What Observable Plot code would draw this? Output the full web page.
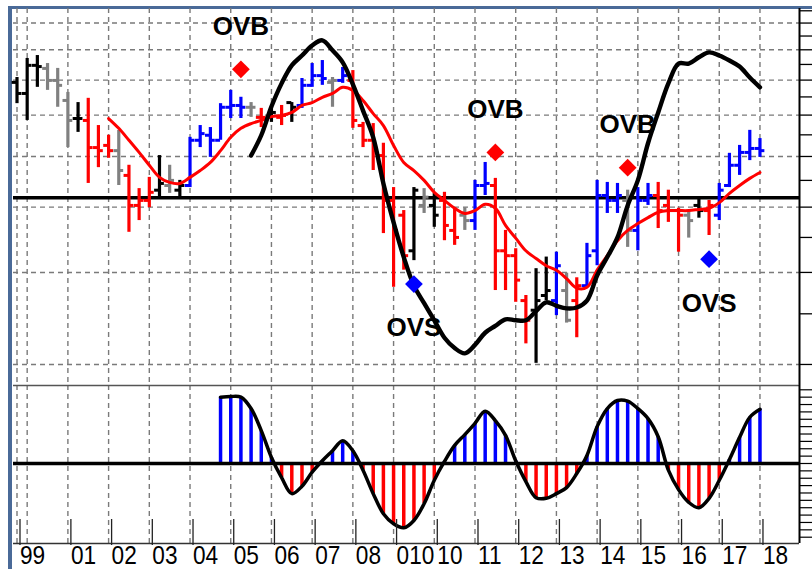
<!DOCTYPE html>
<html><head><meta charset="utf-8">
<script src="https://cdn.jsdelivr.net/npm/d3@7"></script>
<script src="https://cdn.jsdelivr.net/npm/@observablehq/plot@0.6"></script>
<style>
html,body{margin:0;padding:0;background:#fff;}
#chart{position:relative;width:812px;height:569px;overflow:hidden;background:#fff;font-family:"Liberation Sans",Arial,sans-serif;}
#chart svg{position:absolute;left:0;}
.frameL{position:absolute;left:8px;top:6px;width:4px;height:563px;background:#4a6a98;}
.frameT{position:absolute;left:8px;top:6px;width:804px;height:3px;background:#4a6a98;}
</style></head><body><div id="chart"><div class="frameL"></div><div class="frameT"></div></div>
<script>
// ---------- data ----------
const quarters = ["1999Q4",
 "2000Q1","2000Q2","2000Q3","2000Q4","2001Q1","2001Q2","2001Q3","2001Q4",
 "2002Q1","2002Q2","2002Q3","2002Q4","2003Q1","2003Q2","2003Q3","2003Q4",
 "2004Q1","2004Q2","2004Q3","2004Q4","2005Q1","2005Q2","2005Q3","2005Q4",
 "2006Q1","2006Q2","2006Q3","2006Q4","2007Q1","2007Q2","2007Q3","2007Q4",
 "2008Q1","2008Q2","2008Q3","2008Q4","2009Q1","2009Q2","2009Q3","2009Q4",
 "2010Q1","2010Q2","2010Q3","2010Q4","2011Q1","2011Q2","2011Q3","2011Q4",
 "2012Q1","2012Q2","2012Q3","2012Q4","2013Q1","2013Q2","2013Q3","2013Q4",
 "2014Q1","2014Q2","2014Q3","2014Q4","2015Q1","2015Q2","2015Q3","2015Q4",
 "2016Q1","2016Q2","2016Q3","2016Q4","2017Q1","2017Q2","2017Q3","2017Q4",
 "2018Q1"];

const high = [7.08,7.70,7.80,7.53,7.37,6.63,6.34,6.46,5.73,5.49,
 5.61,4.81,4.34,4.56,5.02,4.81,4.50,5.44,5.73,5.68,
 6.31,6.69,6.49,6.34,6.18,6.21,6.26,6.34,7.05,7.53,
 7.63,7.08,7.40,7.30,5.81,5.78,5.30,4.36,3.94,4.36,
 4.34,4.25,4.27,3.99,3.99,4.50,4.87,4.54,3.61,3.33,
 2.71,3.05,3.21,3.28,2.99,2.93,3.41,4.50,4.46,4.44,
 4.31,4.36,4.44,4.46,4.31,3.98,3.94,4.16,4.12,4.44,
 5.07,5.25,5.61,5.41];
const low = [6.31,5.86,6.78,6.69,6.21,5.20,5.56,4.44,4.76,4.96,
 4.40,3.58,3.77,3.99,4.18,4.25,4.18,4.36,5.20,4.98,
 5.37,5.91,5.91,5.94,5.68,5.81,5.73,5.81,6.18,6.78,
 6.84,6.21,6.90,5.66,5.20,4.70,3.56,2.81,3.03,3.16,
 3.89,3.66,3.45,3.38,3.61,3.61,4.21,2.77,2.77,2.63,
 2.19,2.01,2.65,2.48,2.40,2.25,2.81,3.09,3.89,3.89,
 3.35,3.30,4.03,3.64,3.74,3.28,3.49,3.81,3.53,3.77,
 4.36,4.60,4.91,4.98];
const open = [6.93,6.60,7.47,7.37,6.99,6.40,5.91,5.86,5.20,5.25,
 5.13,4.60,4.03,4.12,4.31,4.40,4.31,4.40,5.37,5.49,
 5.37,6.21,6.26,6.21,5.94,5.94,5.94,6.34,6.26,6.84,
 7.14,6.93,6.99,6.99,5.73,5.37,5.02,4.12,3.86,3.30,
 4.03,4.03,4.12,3.61,3.86,3.77,4.40,4.40,3.30,3.23,
 2.65,2.54,2.71,2.65,2.77,2.65,2.83,3.30,4.21,4.12,
 4.12,3.61,4.12,4.21,4.03,3.94,3.86,4.03,3.94,3.86,
 4.40,4.81,5.09,5.18];
const close = [6.60,7.47,7.43,6.99,6.84,5.86,5.91,5.20,5.13,5.13,
 4.70,4.03,4.12,4.27,4.44,4.50,4.40,5.37,5.53,5.37,
 6.21,6.26,6.21,6.21,5.94,6.07,5.99,6.21,6.84,7.14,
 7.05,6.99,7.14,5.86,5.37,5.13,4.12,3.61,3.23,4.31,
 4.18,3.86,3.69,3.50,3.77,4.40,4.44,3.30,3.23,2.90,
 2.43,2.65,2.77,3.09,2.43,2.83,3.23,4.21,4.12,4.21,
 3.61,4.12,4.21,3.94,3.94,3.86,3.77,3.94,4.03,4.31,
 4.81,5.09,5.18,5.13];
// bar state per quarter: k = neutral, g = flat, r = down trend, b = up trend
const barState = "kkkgggkrrrgrrrkgkbbbbbbgrkrkbbbgbrrrrrrkgkrrgbbrrrrkkbgrbbbbgbbrrrgkrbbbbb".split("");

// red moving average (starts 2002Q1)
const movingAvg = [null,null,null,null,null,null,null,null,null,
 5.91,5.66,5.37,5.09,4.81,4.56,4.46,4.44,4.56,4.70,
 4.87,5.13,5.44,5.66,5.78,5.86,5.96,5.99,6.07,6.26,
 6.34,6.49,6.60,6.78,6.69,6.40,6.04,5.73,5.25,4.87,
 4.70,4.50,4.27,4.12,3.98,3.89,3.94,4.05,3.98,3.69,
 3.49,3.30,3.19,3.09,3.03,2.92,2.80,2.81,3.03,3.23,
 3.45,3.61,3.72,3.82,3.91,3.94,3.94,3.94,3.96,3.98,
 4.08,4.25,4.40,4.54,4.66];
// black leading line (starts 2005Q4)
const leadLine = [null,null,null,null,null,null,null,null,null,null,
 null,null,null,null,null,null,null,null,null,null,
 null,null,null,
 5.02,5.49,6.23,6.90,7.47,7.80,8.15,8.34,7.98,7.57,
 6.87,6.12,5.44,4.44,3.74,3.21,2.83,2.62,2.43,2.25,
 2.15,2.10,2.18,2.30,2.37,2.44,2.43,2.43,2.53,2.63,
 2.59,2.56,2.57,2.65,2.96,3.21,3.50,4.03,4.50,5.30,
 6.07,6.90,7.53,7.53,7.74,7.91,7.80,7.63,7.43,7.08,6.78];
// oscillator (starts 2004Q4)
const oscillator = [null,null,null,null,null,null,null,null,null,null,
 null,null,null,null,null,null,null,null,null,null,
 0.99,1.00,0.99,0.82,0.49,0.09,-0.21,-0.45,-0.34,-0.13,
 0.04,0.19,0.34,0.19,-0.10,-0.45,-0.75,-0.90,-0.96,-0.85,
 -0.60,-0.25,0.03,0.27,0.43,0.60,0.78,0.64,0.42,0.04,
 -0.27,-0.51,-0.52,-0.45,-0.36,-0.15,0.12,0.55,0.82,0.94,
 0.93,0.82,0.67,0.40,-0.10,-0.39,-0.58,-0.66,-0.52,-0.25,
 0.06,0.39,0.69,0.81];

const refLevel = 4.17;
const signalQuarter = ["2005Q2","2011Q3","2014Q4","2009Q3","2016Q4"];
const signalValue   = [7.34, 5.09, 4.76, 2.85, 3.18];
const signalLabel   = ["OVB","OVB","OVB","OVS","OVS"];

const gridLevels = [2,3,4,5,6,7,8,9];
const priceTicks = [2,2.5,3,3.5,4,4.5,5,5.5,6,6.5,7,7.5,8,8.5,9,9.5];
const gridYears = [1999.75,2000,2001,2002,2003,2004,2005,2006,2007,2008,2009,2010,2011,2012,2013,2014,2015,2016,2017,2018];
const axisYears = [1999.75,2001,2002,2003,2004,2005,2006,2007,2008,2009,2010,2011,2012,2013,2014,2015,2016,2017,2018];
const axisLabels = ["99","01","02","03","04","05","06","07","08","010","10","11","12","13","14","15","16","17","18"];
const oscTicks = d3.range(-1.10, 1.15, 0.11);

// ---------- build tables ----------
const stateColor = {k: "#000000", g: "#808080", r: "#ff0000", b: "#0000ff"};
const qTime = q => +q.slice(0, 4) + (+q.slice(5) - 1) / 4;
const rows = quarters.map((q, i) => ({
  t: qTime(q), high: high[i], low: low[i], open: open[i], close: close[i],
  color: stateColor[barState[i]], ma: movingAvg[i], lead: leadLine[i], osc: oscillator[i]
}));
const signals = signalQuarter.map((q, i) => ({
  t: qTime(q), v: signalValue[i], label: signalLabel[i],
  color: signalLabel[i] === "OVB" ? "#ff0000" : "#0000ff"
}));
const labelOf = new Map(axisYears.map((y, i) => [y, axisLabels[i]]));

const xDomain = [1999.664, 2018.971];
const tickLen = 0.12;
const grid = {stroke: "#7a7a7a", strokeWidth: 1.4, strokeDasharray: "5,4"};
const font = "'Liberation Sans', Arial, Helvetica, sans-serif";

const main = Plot.plot({
  width: 812, height: 385,
  marginLeft: 13, marginRight: 13, marginTop: 8, marginBottom: 0,
  x: {domain: xDomain, axis: null},
  y: {type: "log", domain: [1.823, 9.596], axis: null},
  color: {type: "identity"},
  style: {background: "transparent", fontFamily: font, overflow: "visible"},
  marks: [
    Plot.ruleY(gridLevels, grid),
    Plot.ruleX(gridYears, grid),
    Plot.ruleY([refLevel], {stroke: "#000", strokeWidth: 3.5}),
    Plot.ruleX(rows, {x: "t", y1: "low", y2: "high", stroke: "color", strokeWidth: 3.2}),
    Plot.ruleY(rows, {y: "open", x1: d => d.t - tickLen, x2: "t", stroke: "color", strokeWidth: 3}),
    Plot.ruleY(rows, {y: "close", x1: "t", x2: d => d.t + tickLen, stroke: "color", strokeWidth: 3}),
    Plot.line(rows.filter(d => d.ma != null), {x: "t", y: "ma", stroke: "#ff0000", strokeWidth: 3, curve: "catmull-rom"}),
    Plot.text(signals.filter(d => d.label === "OVB"), {x: "t", y: "v", text: "label", dy: -43, fontSize: 26, fontWeight: "bold", fill: "#000"}),
    Plot.text(signals.filter(d => d.label === "OVS"), {x: "t", y: "v", text: "label", dy: 44, fontSize: 26, fontWeight: "bold", fill: "#000"}),
    Plot.line(rows.filter(d => d.lead != null), {x: "t", y: "lead", stroke: "#000", strokeWidth: 4.4, curve: "catmull-rom"}),
    Plot.dot(signals, {x: "t", y: "v", symbol: "diamond2", r: 8, fill: "color", stroke: null}),
    Plot.axisY({anchor: "right", ticks: priceTicks, tickSize: 13, tickFormat: () => "", label: null, stroke: "#000", strokeWidth: 1.3}),
    Plot.ruleX([xDomain[1]], {stroke: "#000", strokeWidth: 2})
  ]
});
main.style.top = "0px";
document.getElementById("chart").appendChild(main);

const oscDomain = [-1.194, 1.164];
const osc = Plot.plot({
  width: 812, height: 186,
  marginLeft: 13, marginRight: 13, marginTop: 2, marginBottom: 26,
  x: {domain: xDomain, label: null},
  y: {domain: oscDomain, axis: null, label: null},
  color: {type: "identity"},
  style: {background: "transparent", fontFamily: font, overflow: "visible"},
  marks: [
    Plot.ruleX(gridYears, grid),
    Plot.ruleX(rows.filter(d => d.osc != null), {x: "t", y1: 0, y2: "osc", stroke: d => d.osc >= 0 ? "#0000ff" : "#ff0000", strokeWidth: 3.5}),
    Plot.ruleY([0], {stroke: "#000", strokeWidth: 3.5}),
    Plot.line(rows.filter(d => d.osc != null), {x: "t", y: "osc", stroke: "#000", strokeWidth: 3.5, curve: "catmull-rom"}),
    Plot.ruleY([oscDomain[1]], {stroke: "#555", strokeWidth: 1.5}),
    Plot.ruleY([oscDomain[0]], {stroke: "#333", strokeWidth: 1.5}),
    Plot.ruleX([xDomain[1]], {stroke: "#000", strokeWidth: 2}),
    Plot.axisY({anchor: "right", ticks: oscTicks, tickSize: 12, tickFormat: () => "", label: null, stroke: "#000", strokeWidth: 1.2}),
    Plot.axisX({ticks: axisYears, tickFormat: d => labelOf.get(d), label: null, tickSize: 26, tickPadding: 0,
      textAnchor: "start", lineAnchor: "top", dx: 3, dy: -24, fontSize: 26, fill: "#000", stroke: "#222", strokeWidth: 1.3})
  ]
});
osc.style.top = "383px";
document.getElementById("chart").appendChild(osc);

// condensed look of the year labels (glyphs squeezed horizontally)
d3.select(osc).selectAll('g[aria-label="x-axis tick label"] text').each(function () {
  const w = this.getComputedTextLength();
  if (w > 0) {
    this.setAttribute("textLength", (w * 0.87).toFixed(1));
    this.setAttribute("lengthAdjust", "spacingAndGlyphs");
  }
});
</script>
</body></html>
